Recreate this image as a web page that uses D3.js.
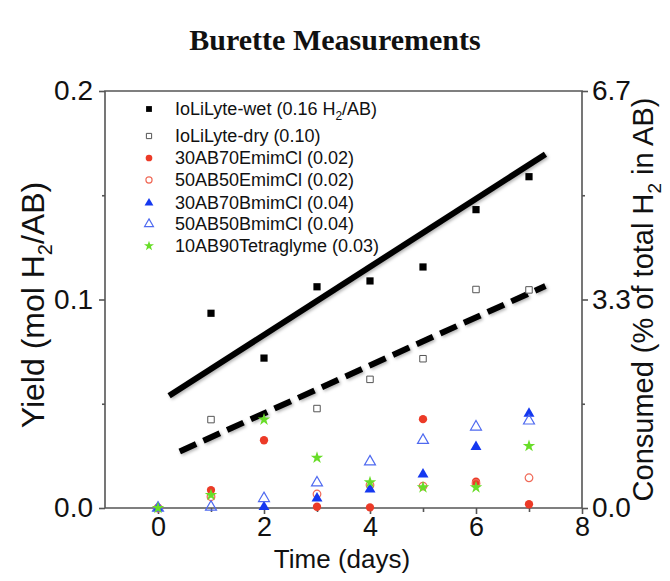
<!DOCTYPE html>
<html>
<head>
<meta charset="utf-8">
<script src="https://cdn.jsdelivr.net/npm/d3@7"></script>
<style>
  html, body { margin: 0; padding: 0; background: #fff; }
  svg { display: block; }
</style>
</head>
<body>
<svg id="chart" width="670" height="581"></svg>
<script>
// Burette hydrogen yield per day for each sample
const days = [0, 1, 2, 3, 4, 5, 6, 7];
const wet    = [null, 0.0934, 0.0719, 0.1061, 0.1089, 0.1156, 0.1431, 0.1589];
const dry    = [null, 0.0424, null,   0.0477, 0.0617, 0.0716, 0.1048, 0.1046];
const emim30 = [0, 0.0086, 0.0325, 0.0006, 0.0003, 0.0426, 0.0126, 0.0018];
const emim50 = [0, 0.0054, null,   0.0067, 0.0110, 0.0105, 0.0118, 0.0145];
const bmim30 = [0, null,   0.0005, 0.0046, 0.0089, 0.0161, 0.0293, 0.0453];
const bmim50 = [0, 0.0005, 0.0046, 0.0121, 0.0222, 0.0325, 0.0389, 0.0418];
const tetra  = [0, 0.0062, 0.0424, 0.0241, 0.0123, 0.0099, 0.0099, 0.0297];

// Trend lines (start/end day, start/end yield)
const wetTrendDays = [0.21, 7.31];
const wetTrend = [0.0538, 0.1697];
const dryTrendDays = [0.41, 7.31];
const dryTrend = [0.0271, 0.1065];

// Legend entries
const seriesNames = [
  ["IoLiLyte-wet (0.16 H", "2", "/AB)"],
  ["IoLiLyte-dry (0.10)"],
  ["30AB70EmimCl (0.02)"],
  ["50AB50EmimCl (0.02)"],
  ["30AB70BmimCl (0.04)"],
  ["50AB50BmimCl (0.04)"],
  ["10AB90Tetraglyme (0.03)"]
];

// Axis ticks
const xTicks = [0, 2, 4, 6, 8];
const xMinorTicks = [1, 3, 5, 7];
const yTicks = [0, 0.1, 0.2];
const yMinorTicks = [0.05, 0.15];
const rightTicks = [0, 10 / 3, 20 / 3];
const rightMinorTicks = [5 / 3, 5];

const svg = d3.select("#chart");
const plotLeft = 105, plotRight = 582, plotTop = 91, plotBottom = 508;
const axisColor = "#555";

const x = d3.scaleLinear().domain([-1, 8]).range([plotLeft, plotRight]);
const y = d3.scaleLinear().domain([0, 0.2]).range([plotBottom, plotTop]);
const yR = d3.scaleLinear().domain([0, 20 / 3]).range([plotBottom, plotTop]);

const sans = "'Liberation Sans', Arial, sans-serif";

// Soft shadow under the trend lines
const defs = svg.append("defs");
const shadow = defs.append("filter").attr("id", "lineShadow")
  .attr("x", "-10%").attr("y", "-10%").attr("width", "120%").attr("height", "120%");
shadow.append("feDropShadow")
  .attr("dx", 1.5).attr("dy", 1.5).attr("stdDeviation", 1.5)
  .attr("flood-color", "#000").attr("flood-opacity", 0.3);

// Title
svg.append("text")
  .attr("x", 335).attr("y", 50)
  .attr("text-anchor", "middle")
  .attr("font-family", "'Liberation Serif', 'DejaVu Serif', serif")
  .attr("font-weight", "bold")
  .attr("font-size", 30)
  .attr("fill", "#111")
  .text("Burette Measurements");

// Axes
function styleAxis(g, size) {
  g.select(".domain").remove();
  g.selectAll("line").attr("stroke", axisColor).attr("stroke-width", 1.6);
  g.selectAll("text").attr("font-family", sans).attr("font-size", size || 28).attr("fill", "#111");
}

svg.append("g").attr("transform", `translate(0,${plotBottom})`)
  .call(d3.axisBottom(x).tickValues(xTicks).tickSize(6).tickPadding(3).tickFormat(d3.format("d")))
  .call(styleAxis, 27);
svg.append("g").attr("transform", `translate(0,${plotBottom})`)
  .call(d3.axisBottom(x).tickValues(xMinorTicks).tickSize(4).tickFormat(""))
  .call(styleAxis);

svg.append("g").attr("transform", `translate(${plotLeft},0)`)
  .call(d3.axisLeft(y).tickValues(yTicks).tickSize(6).tickPadding(6).tickFormat(d3.format(".1f")))
  .call(styleAxis);
svg.append("g").attr("transform", `translate(${plotLeft},0)`)
  .call(d3.axisLeft(y).tickValues(yMinorTicks).tickSize(3).tickFormat(""))
  .call(styleAxis);

svg.append("g").attr("transform", `translate(${plotRight},0)`)
  .call(d3.axisRight(yR).tickValues(rightTicks).tickSize(6).tickPadding(4).tickFormat(d3.format(".1f")))
  .call(styleAxis);
svg.append("g").attr("transform", `translate(${plotRight},0)`)
  .call(d3.axisRight(yR).tickValues(rightMinorTicks).tickSize(3).tickFormat(""))
  .call(styleAxis);

// Frame
svg.append("path")
  .attr("d", `M${plotLeft},${plotBottom}V${plotTop}H${plotRight}V${plotBottom}Z`)
  .attr("fill", "none").attr("stroke", axisColor).attr("stroke-width", 1.6);

// Axis titles
const yl = svg.append("text")
  .attr("transform", `translate(44,305) rotate(-90)`)
  .attr("text-anchor", "middle")
  .attr("font-family", sans).attr("font-size", 32).attr("fill", "#111");
yl.append("tspan").text("Yield (mol H");
yl.append("tspan").attr("font-size", 20).attr("dy", 8).text("2");
yl.append("tspan").attr("dy", -8).text("/AB)");

const yr = svg.append("text")
  .attr("transform", `translate(653,${(plotTop + plotBottom) / 2}) rotate(-90)`)
  .attr("text-anchor", "middle")
  .attr("font-family", sans).attr("font-size", 29).attr("fill", "#111");
yr.append("tspan").text("Consumed (% of total H");
yr.append("tspan").attr("font-size", 19).attr("dy", 8).text("2");
yr.append("tspan").attr("dy", -8).text(" in AB)");

svg.append("text")
  .attr("x", 342).attr("y", 568)
  .attr("text-anchor", "middle")
  .attr("font-family", sans).attr("font-size", 26).attr("fill", "#111")
  .text("Time (days)");

// Trend lines
const line = d3.line().x(d => x(d[0])).y(d => y(d[1]));
svg.append("path")
  .attr("d", line(d3.zip(wetTrendDays, wetTrend)))
  .attr("stroke", "#000").attr("stroke-width", 6).attr("fill", "none")
  .attr("filter", "url(#lineShadow)");
svg.append("path")
  .attr("d", line(d3.zip(dryTrendDays, dryTrend)))
  .attr("stroke", "#000").attr("stroke-width", 6).attr("fill", "none")
  .attr("stroke-dasharray", "18,8")
  .attr("filter", "url(#lineShadow)");

// Series styles
const series = [
  { values: wet,    type: d3.symbolSquare,   size: 52, fill: "#000",    stroke: "none",    sw: 0 },
  { values: dry,    type: d3.symbolSquare,   size: 42, fill: "#fff",    stroke: "#555",    sw: 1 },
  { values: emim30, type: d3.symbolCircle,   size: 54, fill: "#ec3a27", stroke: "none",    sw: 0 },
  { values: emim50, type: d3.symbolCircle,   size: 46, fill: "none",    stroke: "#f06a58", sw: 1.2 },
  { values: bmim30, type: d3.symbolTriangle, size: 52, fill: "#1538f0", stroke: "none",    sw: 0 },
  { values: bmim50, type: d3.symbolTriangle, size: 52, fill: "none",    stroke: "#4f6af0", sw: 1.2 },
  { values: tetra,  type: d3.symbolStar,     size: 48, fill: "#68dd28", stroke: "none",    sw: 0 }
];

series.forEach(s => {
  const pts = days.map((d, i) => [d, s.values[i]]).filter(p => p[1] !== null);
  svg.append("g").selectAll("path").data(pts).join("path")
    .attr("transform", p => `translate(${x(p[0])},${y(p[1])})`)
    .attr("d", d3.symbol(s.type, s.size))
    .attr("fill", s.fill).attr("stroke", s.stroke).attr("stroke-width", s.sw);
});

// Legend
const legend = svg.append("g");
const rowY = [109, 136, 158, 180, 203, 224, 246];
series.forEach((s, i) => {
  legend.append("path")
    .attr("transform", `translate(149,${rowY[i]})`)
    .attr("d", d3.symbol(s.type, s.size * 0.65))
    .attr("fill", s.fill).attr("stroke", s.stroke).attr("stroke-width", s.sw);
  const t = legend.append("text")
    .attr("x", 175).attr("y", rowY[i] + 6)
    .attr("font-family", sans).attr("font-size", 18).attr("fill", "#111");
  const parts = seriesNames[i];
  t.append("tspan").text(parts[0]);
  if (parts.length > 1) {
    t.append("tspan").attr("font-size", 12).attr("dy", 5).text(parts[1]);
    t.append("tspan").attr("dy", -5).text(parts[2]);
  }
});
</script>
</body>
</html>
